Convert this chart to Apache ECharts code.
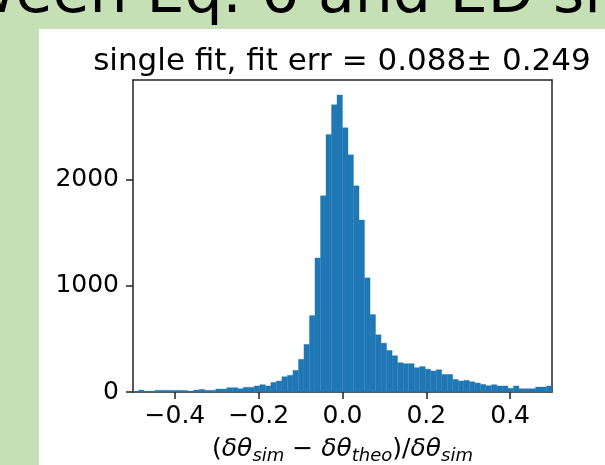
<!DOCTYPE html>
<html>
<head>
<meta charset="utf-8">
<script src="https://cdn.jsdelivr.net/npm/echarts@6/dist/echarts.min.js"></script>
<style>
  html, body { margin: 0; padding: 0; background: #c5e0b4; }
  #root { width: 605px; height: 465px; }
</style>
</head>
<body>
<div id="root"></div>
<script>
// histogram of (dθ_sim - dθ_theo)/dθ_sim, 76 bins between -0.5 and 0.5
const binStart = -0.5;
const binWidth = 1 / 76;
const counts = [
  5, 18, 8, 9, 16, 16, 16, 15, 16, 14,
  6, 19, 25, 16, 16, 28, 28, 41, 41, 31,
  44, 44, 57, 69, 57, 91, 104, 144, 157, 204,
  308, 449, 719, 1262, 1846, 2424, 2704, 2796, 2487, 2232,
  1940, 1619, 1074, 729, 539, 460, 392, 342, 276, 267,
  267, 229, 240, 215, 198, 210, 166, 166, 119, 104,
  110, 97, 85, 72, 60, 69, 57, 57, 35, 57,
  31, 31, 31, 47, 47, 57
];
const xTicks = [-0.4, -0.2, 0.0, 0.2, 0.4];
const yTicks = [0, 1000, 2000];

const bins = counts.map((c, i) => [binStart + i * binWidth, binStart + (i + 1) * binWidth, c]);

const font = 'DejaVu Sans';
let root = document.getElementById('root');
let myChart = echarts.init(root);

const fmtX = v => (v < 0 ? '\u2212' : '') + Math.abs(v).toFixed(1);

let option = {
  animation: false,
  backgroundColor: '#c5e0b4',
  graphic: [
    {
      type: 'rect',
      shape: { x: 39, y: 29, width: 600, height: 460 },
      style: { fill: '#ffffff' },
      z: -10
    },
    {
      type: 'text',
      x: -132,
      y: 26,
      style: {
        text: 'between Eq. 6 and ED simulations',
        font: '60px "DejaVu Sans"',
        fill: '#000',
        textVerticalAlign: 'bottom'
      }
    }
  ],
  title: {
    text: 'single fit, fit err = 0.088\u00b1 0.249',
    left: 337,
    top: 41,
    textAlign: 'center',
    textStyle: { fontFamily: font, fontSize: 31, fontWeight: 'normal', color: '#000' }
  },
  grid: { left: 133, right: 53, top: 80, bottom: 73, containLabel: false, outerBoundsMode: 'none' },
  xAxis: [
    {
      type: 'value',
      min: -0.5,
      max: 0.5,
      splitLine: { show: false },
      axisLine: { onZero: false, lineStyle: { color: '#222', width: 1.5 } },
      axisTick: { customValues: xTicks, length: 7, lineStyle: { color: '#222', width: 1.5 } },
      axisLabel: {
        customValues: xTicks,
        formatter: fmtX,
        margin: 12,
        fontFamily: font,
        fontSize: 25,
        color: '#000'
      },
      name: '{p|(}{i|δθ}{s|sim}{p| \u2212 }{i|δθ}{s|theo}{p|)/}{i|δθ}{s|sim}',
      nameLocation: 'middle',
      nameGap: 40,
      nameTextStyle: {
        rich: {
          p: { fontFamily: font, fontSize: 25, color: '#000', lineHeight: 32 },
          i: { fontFamily: font, fontSize: 25, fontStyle: 'italic', color: '#000', lineHeight: 32 },
          s: { fontFamily: font, fontSize: 18, fontStyle: 'italic', color: '#000', lineHeight: 32, padding: [13, 0, 0, 0] }
        }
      }
    },
    {
      type: 'value',
      position: 'top',
      min: -0.5,
      max: 0.5,
      splitLine: { show: false },
      axisLine: { onZero: false, lineStyle: { color: '#222', width: 1.5 } },
      axisTick: { show: false },
      axisLabel: { show: false }
    }
  ],
  yAxis: [
    {
      type: 'value',
      min: 0,
      max: 2936,
      splitLine: { show: false },
      axisLine: { show: true, onZero: false, lineStyle: { color: '#222', width: 1.5 } },
      axisTick: { show: true, customValues: yTicks, length: 7, lineStyle: { color: '#222', width: 1.5 } },
      axisLabel: {
        customValues: yTicks,
        formatter: v => String(v),
        margin: 14,
        fontFamily: font,
        fontSize: 25,
        color: '#000'
      }
    },
    {
      type: 'value',
      position: 'right',
      min: 0,
      max: 2936,
      splitLine: { show: false },
      axisLine: { show: true, onZero: false, lineStyle: { color: '#222', width: 1.5 } },
      axisTick: { show: false },
      axisLabel: { show: false }
    }
  ],
  series: [
    {
      type: 'custom',
      xAxisIndex: 0,
      yAxisIndex: 0,
      data: bins,
      renderItem: function (params, api) {
        const p0 = api.coord([api.value(0), api.value(2)]);
        const p1 = api.coord([api.value(1), 0]);
        const rect = echarts.graphic.clipRectByRect(
          { x: p0[0], y: p0[1], width: p1[0] - p0[0], height: p1[1] - p0[1] },
          params.coordSys
        );
        return rect && {
          type: 'rect',
          shape: rect,
          style: { fill: '#1f77b4', stroke: '#1f77b4', lineWidth: 0.3 }
        };
      }
    }
  ]
};
myChart.setOption(option);
</script>
</body>
</html>
